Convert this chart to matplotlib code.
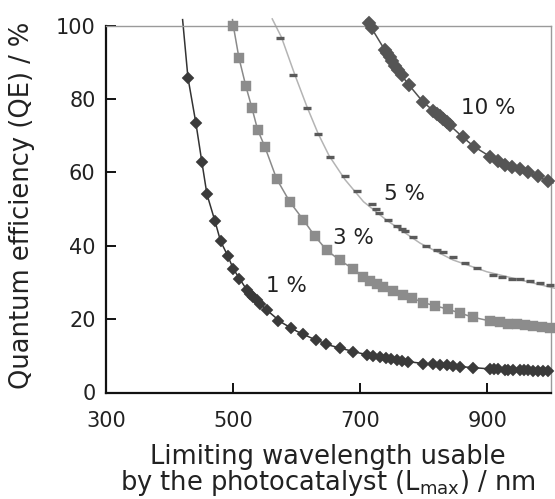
import matplotlib
matplotlib.use("Agg")
import matplotlib.pyplot as plt

plt.rcParams['font.family'] = ['DejaVu Sans']

# ---- data ----
# 1 % series (diamonds)
wl_1 = [428.9, 441.5, 450.9, 458.8, 471.4, 480.3, 491.4, 500.2, 509.6, 521.2, 526.4,
        531.6, 537.0, 542.1, 552.7, 570.0, 590.4, 610.2, 630.2, 646.0, 668.0, 688.4,
        710, 720, 731, 741, 749, 757, 765, 775, 799, 815, 825, 836, 846, 857, 878,
        904, 910, 917, 927, 933, 941, 951, 958, 964, 972, 980, 988, 995]
qe_1 = [85.8, 73.3, 62.7, 54.0, 46.7, 41.2, 37.3, 33.7, 30.8, 27.8, 26.9,
        26.0, 25.1, 24.2, 22.5, 19.5, 17.6, 15.9, 14.3, 13.1, 12.1, 11.0,
        10.35, 10.0, 9.6, 9.3, 9.05, 8.85, 8.65, 8.4, 7.9, 7.65, 7.55, 7.4, 7.25, 7.0, 6.7,
        6.43, 6.38, 6.32, 6.22, 6.18, 6.13, 6.08, 6.03, 6.0, 5.95, 5.9, 5.83, 5.76]
line_wl_1 = [420.5, 428.9, 441.5, 450.9, 458.8, 471.4, 480.3, 491.4, 500.2, 525, 550, 575,
             600, 625, 650, 675, 700, 725, 750, 775, 800, 850, 900, 950, 1000]
line_qe_1 = [101.6, 85.8, 73.3, 62.7, 54.0, 46.7, 41.2, 37.3, 33.7, 27.0, 22.9, 19.2,
             16.7, 14.7, 12.95, 11.8, 10.7, 9.85, 9.05, 8.4, 7.9, 7.15, 6.48, 6.1, 5.75]

# 3 % series (squares)
wl_3 = [500.2, 509.1, 520.1, 529.6, 538.5, 550.0, 568.4, 589.3, 610.2, 628.6, 647.0,
        668.0, 688.8, 704.6, 715, 725.6, 736, 751.7, 767.5, 780.7, 799, 817, 837.7,
        856.6, 877.5, 903.8, 919.5, 932, 946, 959, 971, 985.5, 998]
qe_3 = [100.0, 91.2, 83.4, 77.5, 71.6, 66.9, 58.2, 51.9, 47.1, 42.6, 38.8,
        36.0, 33.7, 31.4, 30.5, 29.6, 28.7, 27.6, 26.6, 25.8, 24.5, 23.6, 22.7,
        21.6, 20.5, 19.5, 19.1, 18.8, 18.6, 18.4, 18.2, 17.9, 17.6]
line_wl_3 = [499.0, 500.2, 509.1, 520.1, 529.6, 538.5, 550.0, 568.4, 589.3, 610.2, 628.6,
             647.0, 668.0, 688.8, 704.6, 725.6, 751.7, 780.7, 799, 837.7, 877.5, 903.8,
             946, 985.5, 1006]
line_qe_3 = [101.6, 100.0, 91.2, 83.4, 77.5, 71.6, 66.9, 58.2, 51.9, 47.1, 42.6,
             38.8, 36.0, 33.7, 31.4, 29.6, 27.6, 25.8, 24.5, 22.7, 20.5, 19.5,
             18.6, 17.9, 17.4]

# 5 % series (dashes)
wl_5 = [573.6, 594.5, 615.6, 633.8, 652.2, 675.8, 694.2, 717.7, 724.5, 729.8, 744,
        757, 765, 770, 783, 804, 820, 830, 846, 864.5, 882.9, 909, 922.2, 938, 951,
        966.7, 982.4, 998]
qe_5 = [96.5, 86.4, 77.5, 70.3, 64.3, 59.1, 54.9, 51.3, 50.1, 49.0, 47.1,
        45.5, 44.6, 44.0, 42.4, 40.0, 38.7, 38.3, 37.0, 35.2, 34.0, 32.0, 31.5, 31.0, 30.9,
        30.5, 29.8, 29.2]
line_wl_5 = [561.5, 576, 597, 616.5, 633.8, 651, 676, 705, 741, 794, 846, 899, 951, 1006]
line_qe_5 = [101.8, 96.8, 86.6, 77.7, 70.5, 64.5, 58.0, 52.0, 47.0, 40.7, 36.1, 32.9,
             30.7, 28.4]

# 10 % series (diamonds)
wl_10 = [714, 718, 739, 742, 746, 750, 754, 759, 765, 777, 799, 815, 820, 825, 830,
         836, 841, 861, 879, 904, 917, 927, 938, 951, 964, 980, 995]
qe_10 = [100.8, 99.2, 93.2, 92.4, 91.3, 90.2, 89.0, 88.0, 86.4, 83.7, 79.1, 76.8,
         76.0, 75.3, 74.4, 73.6, 72.8, 69.6, 67.0, 64.3, 63.2, 62.1, 61.4, 61.0, 60.0,
         59.1, 57.6]
line_wl_10 = [709.7, 718, 739, 750, 765, 777, 799, 815, 841, 861, 879, 904, 938, 964,
              995, 1003]
line_qe_10 = [101.6, 99.2, 93.2, 90.2, 86.4, 83.7, 79.1, 76.8, 72.8, 69.6, 67.0, 64.3,
              61.3, 60.0, 57.6, 57.1]

labels = ['1 %', '3 %', '5 %', '10 %']
label_pos_x = [584.6, 690, 770, 902]
label_pos_y = [29.0, 42.1, 54.1, 77.6]

xticks = [300, 500, 700, 900]
yticks = [0, 20, 40, 60, 80, 100]

# ---- figure ----
fig = plt.figure(figsize=(5.55, 4.99), dpi=100)
ax = fig.add_axes([106/555, 1-392.5/499, 445/555, 367/499])

txt = '#222222'
c1_line, c1_mk = '#333333', '#3a3a3a'
c3_line, c3_mk = '#8a8a8a', '#8c8c8c'
c5_line, c5_mk = '#b4b4b4', '#5a5a5a'
c10_line, c10_mk = '#505050', '#555555'

ax.plot(line_wl_1, line_qe_1, color=c1_line, lw=1.1, clip_on=False, zorder=2)
ax.plot(wl_1, qe_1, ls='none', marker='D', ms=6.4, mfc=c1_mk, mec=c1_mk, mew=0.3,
        clip_on=False, zorder=3)

ax.plot(line_wl_3, line_qe_3, color=c3_line, lw=1.1, clip_on=False, zorder=2)
ax.plot(wl_3, qe_3, ls='none', marker='s', ms=7.8, mfc=c3_mk, mec=c3_mk, mew=0.3,
        clip_on=False, zorder=3)

ax.plot(line_wl_5, line_qe_5, color=c5_line, lw=1.1, clip_on=False, zorder=2)
ax.plot(wl_5, qe_5, ls='none', marker='_', ms=5.5, mec=c5_mk, mew=2.4,
        clip_on=False, zorder=3)

ax.plot(line_wl_10, line_qe_10, color=c10_line, lw=1.1, clip_on=False, zorder=2)
ax.plot(wl_10, qe_10, ls='none', marker='D', ms=6.8, mfc=c10_mk, mec=c10_mk, mew=0.3,
        clip_on=False, zorder=3)

for lab, lx, ly in zip(labels, label_pos_x, label_pos_y):
    ax.text(lx, ly, lab, ha='center', va='center', fontsize=15.5, color=txt, zorder=4)

ax.set_xlim(300, 1000)
ax.set_ylim(0, 100)
ax.set_xticks(xticks)
ax.set_yticks(yticks)
ax.tick_params(axis='both', direction='in', length=7, width=1.4, color='#111111',
               labelcolor=txt, labelsize=15)
ax.tick_params(axis='x', pad=13.5)
ax.tick_params(axis='y', pad=7.5)

for s in ['left', 'bottom']:
    ax.spines[s].set_color('#111111')
    ax.spines[s].set_linewidth(1.6)
for s in ['top', 'right']:
    ax.spines[s].set_color('#9a9a9a')
    ax.spines[s].set_linewidth(1.0)

fig.text(22/555, 1-205/499, 'Quantum efficiency (QE) / %', rotation=90,
         ha='center', va='center', fontsize=18.5, color=txt)
fig.text(328/555, 1-471/499,
         'Limiting wavelength usable\nby the photocatalyst (L$_{\\mathregular{max}}$) / nm',
         ha='center', va='center', multialignment='center', fontsize=18.5, color=txt,
         linespacing=0.95)

fig.savefig('out.png', dpi=100)
